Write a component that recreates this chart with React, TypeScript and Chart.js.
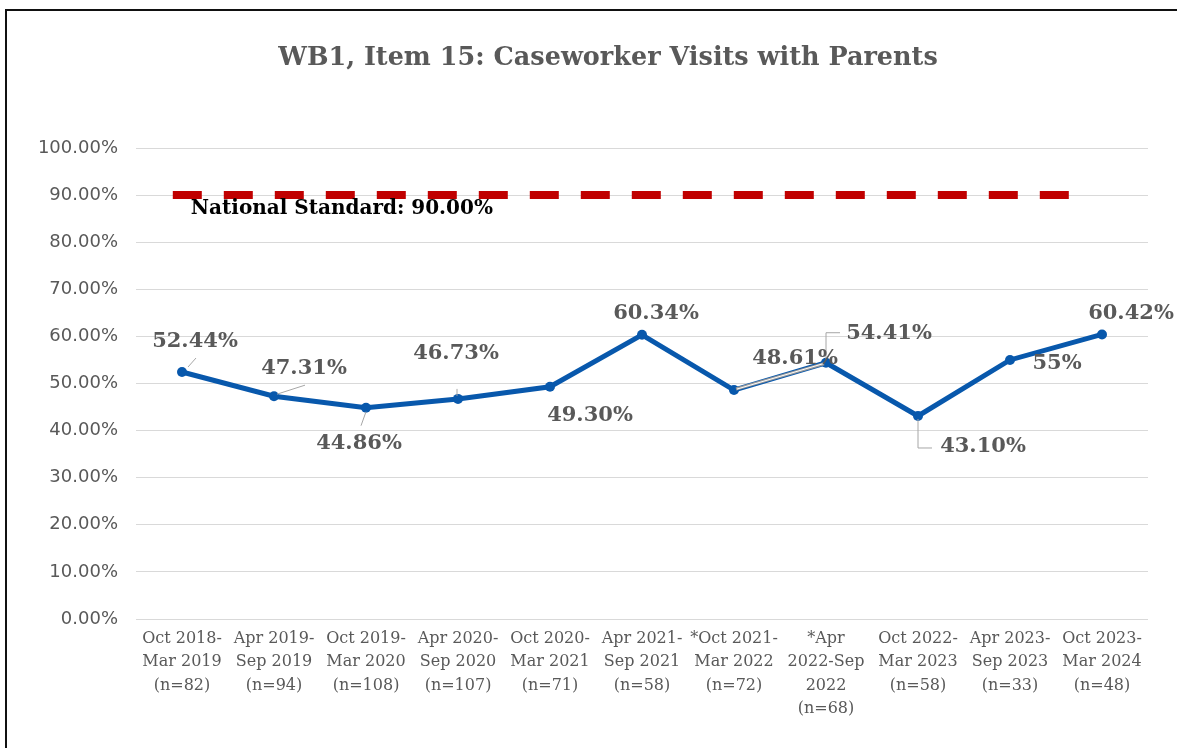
import React, { useEffect, useRef } from "react";
import { Chart, registerables } from "chart.js";

Chart.register(...registerables);

const chartTitle = "WB1, Item 15: Caseworker Visits with Parents";
const periodLabels: string[][] = [
  ["Oct 2018-", "Mar 2019", "(n=82)"],
  ["Apr 2019-", "Sep 2019", "(n=94)"],
  ["Oct 2019-", "Mar 2020", "(n=108)"],
  ["Apr 2020-", "Sep 2020", "(n=107)"],
  ["Oct 2020-", "Mar 2021", "(n=71)"],
  ["Apr 2021-", "Sep 2021", "(n=58)"],
  ["*Oct 2021-", "Mar 2022", "(n=72)"],
  ["*Apr", "2022-Sep", "2022", "(n=68)"],
  ["Oct 2022-", "Mar 2023", "(n=58)"],
  ["Apr 2023-", "Sep 2023", "(n=33)"],
  ["Oct 2023-", "Mar 2024", "(n=48)"],
];
const visitRates = [0.5244, 0.4731, 0.4486, 0.4673, 0.493, 0.6034, 0.4861, 0.5441, 0.431, 0.55, 0.6042];
const rateLabels = ["52.44%", "47.31%", "44.86%", "46.73%", "49.30%", "60.34%", "48.61%", "54.41%", "43.10%", "55%", "60.42%"];
const nationalStandard = 0.9;
const standardLabel = "National Standard: 90.00%";
// standard line extent, in category-index units
const standardStart = -0.1;
const standardEnd = 9.68;

// label text offsets from their points (px)
const labelOffsets: [number, number][] = [
  [13, -30], [30, -28], [-7, 36], [-2, -45], [40, 29], [14, -21],
  [61, -32], [63, -29], [65, 31], [47, 4], [29, -21],
];
// leader lines (polylines relative to the point)
const leaders: ([number, number][] | null)[] = [
  [[6, -5], [14, -14]],
  [[3, -2], [31, -11]],
  [[0, 4], [-5, 18]],
  [[-1, -10], [-1, -3]],
  null,
  null,
  null,
  [[0, -3], [0, -30], [14, -30]],
  [[0, 3], [0, 32], [14, 32]],
  null,
  null,
];

const BLUE = "#0858AC";
const GREY = "#595959";

export default function App() {
  const ref = useRef<HTMLCanvasElement | null>(null);
  useEffect(() => {
    if (!ref.current) return;
    const labelPlugin = {
      id: "labels",
      afterDraw(chart: any) {
        const ctx = chart.ctx;
        ctx.save();
        ctx.font = "bold 25.5px 'DejaVu Serif'";
        ctx.fillStyle = GREY;
        ctx.textAlign = "center";
        ctx.textBaseline = "middle";
        ctx.fillText(chartTitle, 608, 58);
        ctx.restore();
      },
      afterDatasetsDraw(chart: any) {
        const ctx = chart.ctx;
        const meta = chart.getDatasetMeta(0);
        const pts = meta.data;
        ctx.save();
        // double leader between points 7 and 8
        const p6 = pts[6], p7 = pts[7];
        ctx.strokeStyle = "#9a9a9a";
        ctx.lineWidth = 3;
        ctx.beginPath();
        ctx.moveTo(p6.x + 2, p6.y - 1);
        ctx.lineTo(p7.x - 2, p7.y + 1);
        ctx.stroke();
        ctx.strokeStyle = "#ffffff";
        ctx.lineWidth = 1;
        ctx.beginPath();
        ctx.moveTo(p6.x + 3, p6.y - 1);
        ctx.lineTo(p7.x - 3, p7.y + 1);
        ctx.stroke();
        ctx.strokeStyle = "#a6a6a6";
        ctx.lineWidth = 1;
        leaders.forEach((l, i) => {
          if (!l) return;
          const p = pts[i];
          ctx.beginPath();
          l.forEach(([dx, dy], k) => {
            if (k === 0) ctx.moveTo(p.x + dx, p.y + dy);
            else ctx.lineTo(p.x + dx, p.y + dy);
          });
          ctx.stroke();
        });
        ctx.font = "bold 21px 'DejaVu Serif'";
        ctx.fillStyle = GREY;
        ctx.textAlign = "center";
        ctx.textBaseline = "middle";
        rateLabels.forEach((t, i) => {
          const p = pts[i];
          ctx.fillText(t, p.x + labelOffsets[i][0], p.y + labelOffsets[i][1]);
        });
        // national standard label
        const x2 = chart.scales.x2;
        const y = chart.scales.y;
        ctx.font = "bold 20px 'DejaVu Serif'";
        ctx.fillStyle = "#000000";
        ctx.textAlign = "left";
        ctx.fillText(standardLabel, x2.getPixelForValue(standardStart) + 18, y.getPixelForValue(nationalStandard) + 14);
        ctx.restore();
      },
    };
    const chart = new Chart(ref.current, {
      type: "line",
      data: {
        labels: periodLabels,
        datasets: [
          {
            label: "Caseworker visits",
            data: visitRates,
            borderColor: BLUE,
            backgroundColor: BLUE,
            borderWidth: 5,
            pointRadius: 5,
            pointBorderWidth: 0,
            tension: 0,
            xAxisID: "x",
            yAxisID: "y",
          },
          {
            label: "National Standard",
            data: [
              { x: standardStart, y: nationalStandard },
              { x: standardEnd, y: nationalStandard },
            ] as any,
            borderColor: "#C00000",
            borderWidth: 8,
            borderDash: [29, 22],
            borderCapStyle: "butt",
            pointRadius: 0,
            xAxisID: "x2",
            yAxisID: "y",
          },
        ],
      },
      options: {
        animation: false,
        responsive: false,
        layout: { padding: { left: 20, right: 29, top: 148, bottom: 0 } },
        plugins: {
          legend: { display: false },
          tooltip: { enabled: false },
          title: { display: false },
        },
        scales: {
          x: {
            type: "category",
            offset: true,
            grid: { display: false, drawTicks: false },
            border: { display: false },
            ticks: {
              color: GREY,
              font: { family: "'DejaVu Serif'", size: 16, lineHeight: 1.47 },
              padding: 8,
              maxRotation: 0,
              autoSkip: false,
            },
            afterFit: (s: any) => {
              s.height = 129;
            },
          },
          x2: {
            type: "linear",
            display: false,
            min: -0.5,
            max: 10.5,
          },
          y: {
            min: 0,
            max: 1,
            grid: { color: "#d9d9d9", lineWidth: 1, drawTicks: false },
            border: { display: false },
            ticks: {
              stepSize: 0.1,
              color: GREY,
              font: { family: "'DejaVu Sans'", size: 18 },
              padding: 18,
              callback: (v: any) => (Number(v) * 100).toFixed(2) + "%",
            },
            afterFit: (s: any) => {
              s.width = 116;
            },
          },
        },
      },
      plugins: [labelPlugin],
    } as any);
    return () => chart.destroy();
  }, []);
  return (
    <div style={{ position: "absolute", left: 0, top: 0, width: 1177, height: 748, overflow: "hidden", background: "#fff" }}>
      <div
        style={{
          position: "absolute",
          left: 5,
          top: 9,
          width: 1400,
          height: 1000,
          borderLeft: "2px solid #111",
          borderTop: "2px solid #111",
        }}
      />
      <canvas ref={ref} width={1177} height={748} style={{ position: "absolute", left: 0, top: 0 }} />
    </div>
  );
}
